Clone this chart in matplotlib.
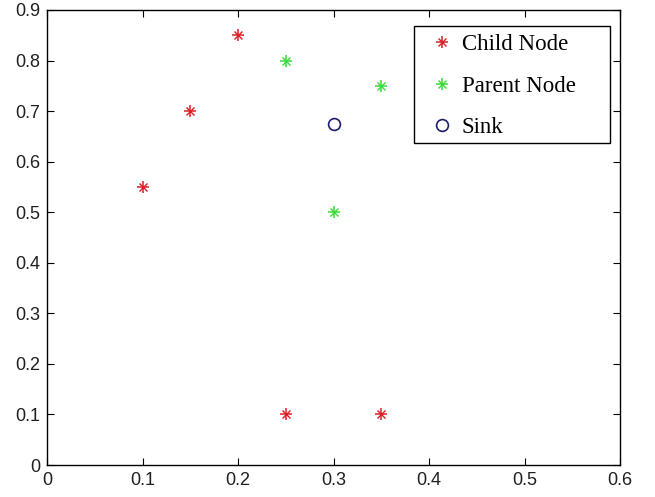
import matplotlib
matplotlib.use("Agg")
import matplotlib.pyplot as plt
from matplotlib.patches import Rectangle

child_x = [0.1, 0.15, 0.2, 0.25, 0.35]
child_y = [0.55, 0.7, 0.85, 0.1, 0.1]
parent_x = [0.25, 0.35, 0.3]
parent_y = [0.8, 0.75, 0.5]
sink_x = [0.3]
sink_y = [0.675]
labels = ['Child Node', 'Parent Node', 'Sink']
xticks = [0, 0.1, 0.2, 0.3, 0.4, 0.5, 0.6]
yticks = [0, 0.1, 0.2, 0.3, 0.4, 0.5, 0.6, 0.7, 0.8, 0.9]

red = '#d82028'
green = '#3cd83c'
navy = '#1e1e6e'

fig = plt.figure(figsize=(6.55, 4.97), dpi=100)
ax = fig.add_axes([47/655, 32/497, 573/655, 455/497])


def asterisk(x, y, color):
    p, = ax.plot(x, y, linestyle='none', marker='+', markersize=8.5,
                 markeredgewidth=1.1, color=color)
    q, = ax.plot(x, y, linestyle='none', marker='x', markersize=5.5,
                 markeredgewidth=1.0, color=color)
    return (p, q)


h_child = asterisk(child_x, child_y, red)
h_parent = asterisk(parent_x, parent_y, green)
h_sink, = ax.plot(sink_x, sink_y, linestyle='none', marker='o', markersize=8.5,
                  markerfacecolor='none', markeredgewidth=1.2, color=navy)

ax.set_xlim(0, 0.6)
ax.set_ylim(0, 0.9)
ax.set_xticks(xticks)
ax.set_yticks(yticks)
ax.set_xticklabels([f"{t:g}" for t in xticks])
ax.set_yticklabels([f"{t:g}" for t in yticks])
ax.tick_params(direction='in', top=True, right=True, length=5, width=0.8,
               labelsize=13, pad=5)
for lab in ax.get_xticklabels() + ax.get_yticklabels():
    lab.set_fontfamily('Liberation Sans')
    lab.set_color('#202020')
for s in ax.spines.values():
    s.set_linewidth(1.0)
    s.set_color('black')

# legend frame
x0, x1 = (414-47)/573, (610-47)/573
y1, y0 = (465-26)/455, (465-143)/455
ax.add_patch(Rectangle((x0, y0), x1-x0, y1-y0, transform=ax.transAxes,
                       facecolor='white', edgecolor='black', linewidth=1.0,
                       zorder=4))

leg = ax.legend([h_child, h_parent, h_sink], labels,
                loc='upper left', bbox_to_anchor=((431-47)/573, (465-34)/455),
                prop={'family': 'Liberation Serif', 'size': 16.5},
                frameon=False, labelspacing=0.9, handlelength=1.0,
                handletextpad=0.35, borderpad=0, borderaxespad=0)
leg.set_zorder(5)

fig.savefig("out.png", dpi=100)
